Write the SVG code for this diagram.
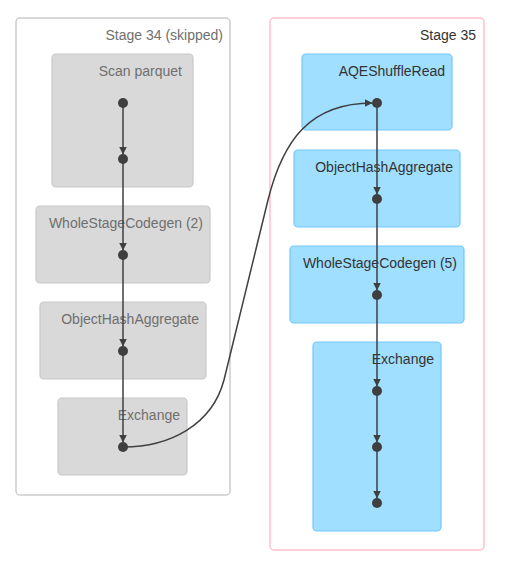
<svg xmlns="http://www.w3.org/2000/svg" width="508" height="565" viewBox="0 0 508 565">
  <defs>
    <marker id="arrow" viewBox="0 0 10 10" refX="10" refY="5" markerWidth="8" markerHeight="8" markerUnits="userSpaceOnUse" orient="auto">
      <path d="M0,0 L10,5 L0,10 z" fill="#3f3f3f"/>
    </marker>
    <style>
      text { font-family: "Liberation Sans", Arial, sans-serif; font-size: 14px; text-anchor: end; }
      .cluster-skipped { fill: #ffffff; stroke: #cccccc; stroke-width: 1.5; }
      .cluster-active { fill: #ffffff; stroke: #ffc0cb; stroke-width: 1.5; }
      .node-skipped { fill: #d9d9d9; stroke: #c8c8c8; stroke-width: 1.2; }
      .node-active { fill: #a0dfff; stroke: #70c8ff; stroke-width: 1.2; }
      .label-skipped { fill: #6f6f6f; }
      .label-active { fill: #333333; }
      .edge { fill: none; stroke: #3f3f3f; stroke-width: 1.5; marker-end: url(#arrow); }
      .dot { fill: #3f3f3f; }
    </style>
  </defs>

  <!-- stage clusters -->
  <g id="stage-34">
    <rect class="cluster-skipped" x="16" y="18" width="214" height="477" rx="4"/>
    <text class="label-skipped" x="223" y="40">Stage 34 (skipped)</text>
  </g>
  <g id="stage-35">
    <rect class="cluster-active" x="270" y="18" width="214" height="532" rx="4"/>
    <text class="label-active" x="476" y="40">Stage 35</text>
  </g>

  <!-- operator boxes, stage 34 -->
  <g id="scan-parquet">
    <rect class="node-skipped" x="52" y="54" width="141" height="133" rx="4"/>
    <text class="label-skipped" x="182" y="76">Scan parquet</text>
  </g>
  <g id="wholestagecodegen-2">
    <rect class="node-skipped" x="36" y="206" width="174" height="77" rx="4"/>
    <text class="label-skipped" x="203" y="228">WholeStageCodegen (2)</text>
  </g>
  <g id="objecthashaggregate-34">
    <rect class="node-skipped" x="40" y="302" width="166" height="77" rx="4"/>
    <text class="label-skipped" x="199" y="324">ObjectHashAggregate</text>
  </g>
  <g id="exchange-34">
    <rect class="node-skipped" x="58" y="398" width="129" height="77" rx="4"/>
    <text class="label-skipped" x="180" y="420">Exchange</text>
  </g>

  <!-- operator boxes, stage 35 -->
  <g id="aqeshuffleread">
    <rect class="node-active" x="302" y="54" width="150" height="76" rx="4"/>
    <text class="label-active" x="445" y="76">AQEShuffleRead</text>
  </g>
  <g id="objecthashaggregate-35">
    <rect class="node-active" x="294" y="150" width="166" height="77" rx="4"/>
    <text class="label-active" x="453" y="172">ObjectHashAggregate</text>
  </g>
  <g id="wholestagecodegen-5">
    <rect class="node-active" x="290" y="246" width="174" height="77" rx="4"/>
    <text class="label-active" x="457" y="268">WholeStageCodegen (5)</text>
  </g>
  <g id="exchange-35">
    <rect class="node-active" x="313" y="342" width="128" height="189" rx="4"/>
    <text class="label-active" x="434" y="364">Exchange</text>
  </g>

  <!-- edges between operators -->
  <g id="edges">
    <path class="edge" d="M123,103 L123,154.5"/>
    <path class="edge" d="M123,159 L123,250.5"/>
    <path class="edge" d="M123,255 L123,346.5"/>
    <path class="edge" d="M123,351 L123,442.5"/>
    <path class="edge" d="M123,447 C170,447 212,425 224,380 L268,200 C283,140 310,103 372.5,103"/>
    <path class="edge" d="M377,103 L377,194.5"/>
    <path class="edge" d="M377,199 L377,290.5"/>
    <path class="edge" d="M377,295 L377,386.5"/>
    <path class="edge" d="M377,391 L377,442.5"/>
    <path class="edge" d="M377,447 L377,498.5"/>
  </g>

  <!-- operator points -->
  <g id="points">
    <circle class="dot" cx="123" cy="103" r="5"/>
    <circle class="dot" cx="123" cy="159" r="5"/>
    <circle class="dot" cx="123" cy="255" r="5"/>
    <circle class="dot" cx="123" cy="351" r="5"/>
    <circle class="dot" cx="123" cy="447" r="5"/>
    <circle class="dot" cx="377" cy="103" r="5"/>
    <circle class="dot" cx="377" cy="199" r="5"/>
    <circle class="dot" cx="377" cy="295" r="5"/>
    <circle class="dot" cx="377" cy="391" r="5"/>
    <circle class="dot" cx="377" cy="447" r="5"/>
    <circle class="dot" cx="377" cy="503" r="5"/>
  </g>
</svg>
